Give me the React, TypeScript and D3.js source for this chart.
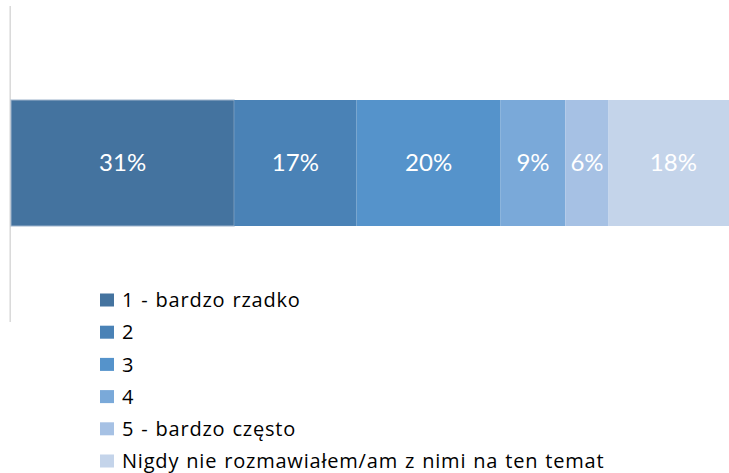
import React from "react";
import * as d3 from "d3";

const categories = [
  "1 - bardzo rzadko",
  "2",
  "3",
  "4",
  "5 - bardzo często",
  "Nigdy nie rozmawiałem/am z nimi na ten temat",
];
const values = [31, 17, 20, 9, 6, 18];
const labels = ["31%", "17%", "20%", "9%", "6%", "18%"];
const colors = ["#44739F", "#4A82B6", "#5593CB", "#7AA9D9", "#A6C1E4", "#C4D4EA"];

const W = 729;
const H = 473;

export default function App() {
  const x = d3.scaleLinear().domain([0, 100]).range([11, 731]);
  const y = d3.scaleBand().domain(["row"]).range([100, 226]).padding(0);
  const starts = d3.cumsum([0, ...values.slice(0, -1)]);
  const legendY = d3
    .scalePoint()
    .domain(categories)
    .range([300, 461]);

  return (
    <svg
      width={W}
      height={H}
      style={{ position: "absolute", left: 0, top: 0, background: "#fff" }}
    >
      <line x1={10.2} x2={10.2} y1={6} y2={322} stroke="#d9d9d9" strokeWidth={1.5} />
      {values.map((v, i) => {
        const x0 = x(starts[i]);
        const x1 = x(starts[i] + v);
        return (
          <g key={i}>
            <rect
              x={x0}
              y={y("row")!}
              width={x1 - x0}
              height={y.bandwidth()}
              fill={colors[i]}
              stroke={i === 0 ? "#9DB4CC" : "none"}
              strokeWidth={i === 0 ? 1 : 0}
            />
            <text
              x={(x0 + x1) / 2}
              y={y("row")! + y.bandwidth() / 2}
              dy="0.35em"
              textAnchor="middle"
              fill="#fff"
              fontSize={24}
              fontFamily="Lato, sans-serif"
            >
              {labels[i]}
            </text>
          </g>
        );
      })}
      {categories.map((c, i) => (
        <g key={c} transform={`translate(0,${legendY(c)})`}>
          <rect x={100} y={-6.5} width={14} height={13} fill={colors[i]} />
          <text
            x={122}
            y={0}
            dy="0.36em"
            fill="#000"
            fontSize={20}
            fontFamily="'Open Sans', sans-serif"
            letterSpacing={0.8}
            wordSpacing={1}
          >
            {c}
          </text>
        </g>
      ))}
    </svg>
  );
}
